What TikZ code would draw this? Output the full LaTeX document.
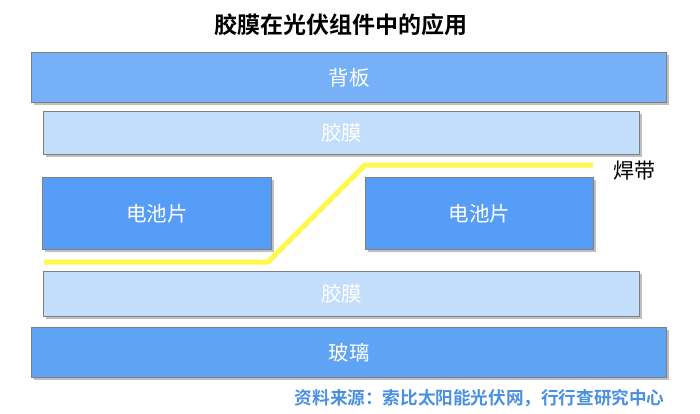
\documentclass[tikz,border=0pt]{standalone}
\usepackage{fontspec}
\setmainfont{Noto Sans CJK SC}
\newfontfamily\cjkb{Noto Sans CJK SC Bold}
\usetikzlibrary{shadows}
\definecolor{backc}{HTML}{76B0F6}
\definecolor{filmc}{HTML}{C3DEFA}
\definecolor{cellc}{HTML}{559DF7}
\definecolor{glassc}{HTML}{5FA3F5}
\definecolor{ribc}{HTML}{FFF84A}
\definecolor{srcc}{HTML}{4A90E2}
\definecolor{edgec}{HTML}{7F7F7F}
\tikzset{
  layer/.style={draw=edgec, line width=1.3pt, anchor=north west, inner sep=0pt,
    text=white, font=\fontsize{20.5}{22}\selectfont,
    drop shadow={shadow xshift=2pt, shadow yshift=-2pt, opacity=0.25, fill=black}},
}
\begin{document}
\begin{tikzpicture}[x=1pt,y=-1pt]
\useasboundingbox (0,0) rectangle (700,414);
\fill[white] (0,0) rectangle (700,414);
\node[font=\cjkb\fontsize{23}{25}\selectfont] (title) at (341,25) {胶膜在光伏组件中的应用};
\node[layer, fill=backc, minimum width=635pt, minimum height=50pt] (back) at (31,52) {背板};
\node[layer, fill=filmc, minimum width=596pt, minimum height=43pt] (film1) at (43,111) {胶膜};
\node[layer, fill=cellc, minimum width=229pt, minimum height=72pt] (cell1) at (42,177) {电池片};
\node[layer, fill=cellc, minimum width=228pt, minimum height=72pt] (cell2) at (365,177) {电池片};
\node[layer, fill=filmc, minimum width=596pt, minimum height=45pt] (film2) at (43,271) {胶膜};
\node[layer, fill=glassc, minimum width=635pt, minimum height=50pt] (glass) at (31,327) {玻璃};
\coordinate (r0) at (44,262);
\coordinate (r1) at (268,262);
\coordinate (r2) at (365,165);
\coordinate (r3) at (593,165);
\draw[ribc, line width=5pt] (r0) -- (r1) -- (r2) -- (r3);
\node[font=\fontsize{21}{23}\selectfont, anchor=west] (rib) at (610,171) {焊带};
\node[font=\cjkb\fontsize{17.6}{19}\selectfont, text=srcc, anchor=east] (src) at (668,398) {资料来源：索比太阳能光伏网，行行查研究中心};
\end{tikzpicture}
\end{document}
